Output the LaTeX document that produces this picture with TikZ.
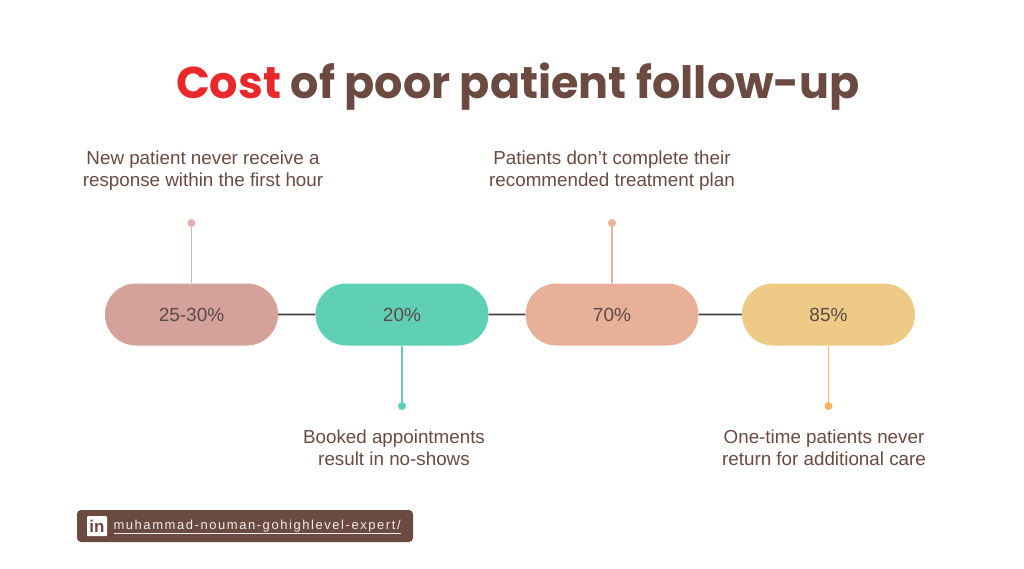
\documentclass[tikz,border=0pt]{standalone}
\usetikzlibrary{shapes.misc}
\usepackage{fontspec}
\setmainfont{Liberation Sans}
\newfontfamily\titlefont{Poppins}
\newfontfamily\urlfont[LetterSpace=12]{Liberation Sans}
\definecolor{tred}{HTML}{E8282B}
\definecolor{tbrown}{HTML}{6B4A42}
\definecolor{pA}{HTML}{D4A19B}
\definecolor{pB}{HTML}{5FD0B6}
\definecolor{pC}{HTML}{E8B098}
\definecolor{pD}{HTML}{EDCB87}
\definecolor{sA}{HTML}{DDB2AC}
\definecolor{sB}{HTML}{5FD0B6}
\definecolor{sC}{HTML}{EBB29C}
\definecolor{sD}{HTML}{F0B760}
\definecolor{ptext}{HTML}{5A4A48}
\begin{document}
\begin{tikzpicture}[x=1pt,y=-1pt,
  pill/.style={rounded rectangle, minimum width=173pt, minimum height=62pt, inner sep=0pt, text=ptext, font=\fontsize{19}{22}\selectfont},
  lbl/.style={align=center, text=tbrown, font=\fontsize{18.8}{22}\selectfont},
  stem/.style={line width=1.8pt},
  dotc/.style={circle, inner sep=0pt, minimum size=8pt}]
\useasboundingbox (0,0) rectangle (1024,569);
\fill[white] (0,0) rectangle (1024,569);
\node (title) at (518,87) {\titlefont\bfseries\fontsize{44.5}{50}\selectfont\textcolor{tred}{Cost} \textcolor{tbrown}{of poor patient follow-up}};
\node[pill, fill=pA] (p1) at (191.5,314.5) {25-30\%};
\node[pill, fill=pB] (p2) at (402,314.5) {20\%};
\node[pill, fill=pC] (p3) at (612,314.5) {70\%};
\node[pill, fill=pD] (p4) at (828.5,314.5) {85\%};
\draw[line width=1.6pt, color=black!75] (p1) -- (p2) (p2) -- (p3) (p3) -- (p4);
\node[dotc, fill=sA] (d1) at (191.5,223) {};
\node[dotc, fill=sB] (d2) at (402,406) {};
\node[dotc, fill=sC] (d3) at (612,223) {};
\node[dotc, fill=sD] (d4) at (828.5,406) {};
\draw[stem, sA] (d1) -- (p1.north);
\draw[stem, sB] (d2) -- (p2.south);
\draw[stem, sC] (d3) -- (p3.north);
\draw[stem, sD] (d4) -- (p4.south);
\node[lbl] (l1) at (203,171) {New patient never receive a\\response within the first hour};
\node[lbl] (l3) at (612,171) {Patients don't complete their\\recommended treatment plan};
\node[lbl] (l2) at (394,448) {Booked appointments\\result in no-shows};
\node[lbl] (l4) at (824,448) {One-time patients never\\return for additional care};
\node[fill=tbrown, rounded corners=4pt, minimum width=336pt, minimum height=32pt, inner sep=0pt] (badge) at (245,526) {};
\node[fill=white, minimum size=20pt, inner sep=0pt, rounded corners=1pt, text=tbrown, font=\bfseries\fontsize{17}{17}\selectfont] (li) at (97,526) {in};
\node[anchor=west, text=white!90!tbrown, font=\urlfont\fontsize{13}{14}\selectfont] (url) at (110,527) {\underline{muhammad-nouman-gohighlevel-expert/}};
\end{tikzpicture}
\end{document}
